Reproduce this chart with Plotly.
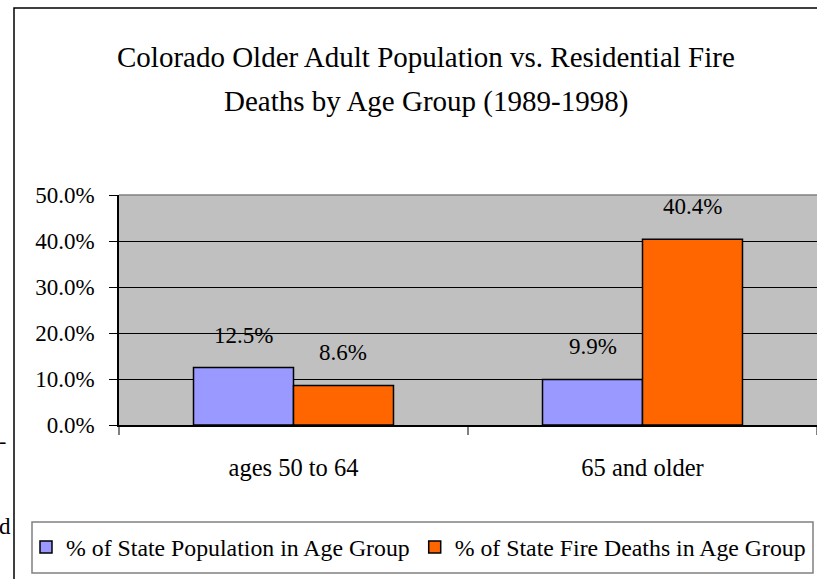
import plotly.graph_objects as go

categories = ["ages 50 to 64", "65 and older"]
pop_share = [0.125, 0.099]
death_share = [0.086, 0.404]
series_names = ["% of State Population in Age Group", "% of State Fire Deaths in Age Group"]
title_lines = ["Colorado Older Adult Population vs. Residential Fire",
               "Deaths by Age Group (1989-1998)"]
y_ticks = [0, 0.1, 0.2, 0.3, 0.4, 0.5]

FONT = "Liberation Serif"
W, H = 817, 579
ML, MR, MT, MB = 119, 0, 195, 154
PW = W - ML - MR
PH = H - MT - MB
BARGAP = 0.427

def px_x(x):
    return (x - ML) / PW

def px_y(y):
    return (H - MB - y) / PH

fig = go.Figure()
fig.add_trace(go.Bar(x=categories, y=pop_share, name=series_names[0],
                     marker=dict(color="#9999FF", line=dict(color="black", width=1.5))))
fig.add_trace(go.Bar(x=categories, y=death_share, name=series_names[1],
                     marker=dict(color="#FF6600", line=dict(color="black", width=1.5))))

cat_w = PW / len(categories)
bar_w = cat_w * (1 - BARGAP) / 2
annotations = []
for vals, sgn in ((pop_share, -1), (death_share, 1)):
    for c, v in zip(categories, vals):
        annotations.append(dict(x=c, y=v, xref="x", yref="y", text=f"{v*100:.1f}%",
                                showarrow=False, xshift=sgn * bar_w / 2, yshift=18,
                                yanchor="bottom", font=dict(family=FONT, size=23, color="black")))

annotations.append(dict(x=px_x(426), y=px_y(57), xref="paper", yref="paper", text=title_lines[0],
                        showarrow=False, xanchor="center", yanchor="middle",
                        font=dict(family=FONT, size=29, color="black")))
annotations.append(dict(x=px_x(426), y=px_y(102), xref="paper", yref="paper", text=title_lines[1],
                        showarrow=False, xanchor="center", yanchor="middle",
                        font=dict(family=FONT, size=29, color="black")))
# fragments of surrounding page text visible at the left edge
annotations.append(dict(x=px_x(8), y=px_y(440), xref="paper", yref="paper", text="-",
                        showarrow=False, xanchor="right", yanchor="middle",
                        font=dict(family=FONT, size=22, color="black")))
annotations.append(dict(x=px_x(13), y=px_y(526), xref="paper", yref="paper", text="d",
                        showarrow=False, xanchor="right", yanchor="middle",
                        font=dict(family=FONT, size=23, color="black")))

shapes = [
    dict(type="rect", xref="paper", yref="paper", x0=px_x(14), x1=px_x(830),
         y0=px_y(600), y1=px_y(8), line=dict(color="black", width=1.5), layer="below"),
    dict(type="rect", xref="paper", yref="paper", x0=px_x(32), x1=px_x(813),
         y0=px_y(573), y1=px_y(522), line=dict(color="#808080", width=1.5),
         fillcolor="white", layer="below"),
    dict(type="line", xref="paper", yref="paper", x0=0, x1=1, y0=1, y1=1,
         line=dict(color="#808080", width=1.5)),
]

fig.update_layout(
    width=W, height=H,
    margin=dict(l=ML, r=MR, t=MT, b=MB, pad=0),
    paper_bgcolor="white", plot_bgcolor="#C0C0C0",
    barmode="group", bargap=BARGAP, bargroupgap=0,
    font=dict(family=FONT, color="black"),
    showlegend=True,
    legend=dict(orientation="h", x=px_x(26), y=px_y(547), xanchor="left", yanchor="middle",
                font=dict(family="Times New Roman, serif", size=23.8, color="black"),
                bgcolor="rgba(0,0,0,0)", borderwidth=0, traceorder="normal"),
    annotations=annotations,
    shapes=shapes,
)
fig.update_yaxes(range=[0, 0.5], tickvals=y_ticks, tickformat=".1%",
                 showgrid=True, gridcolor="black", gridwidth=1,
                 ticks="outside", ticklen=8, tickcolor="black", tickwidth=1,
                 showline=True, linecolor="black", linewidth=1.5,
                 tickfont=dict(family=FONT, size=23, color="black"),
                 ticklabelstandoff=10, zeroline=False)
fig.update_xaxes(type="category", tickson="boundaries", ticks="outside", ticklen=8,
                 tickcolor="#808080", tickwidth=1.5, showgrid=False,
                 showline=True, linecolor="black", linewidth=1.5,
                 tickfont=dict(family="serif", size=24.5, color="black"),
                 ticklabelstandoff=20)

fig.write_html("out.html", config={"displayModeBar": False},
               post_script="document.body.style.margin='0';document.body.style.overflow='hidden';")
